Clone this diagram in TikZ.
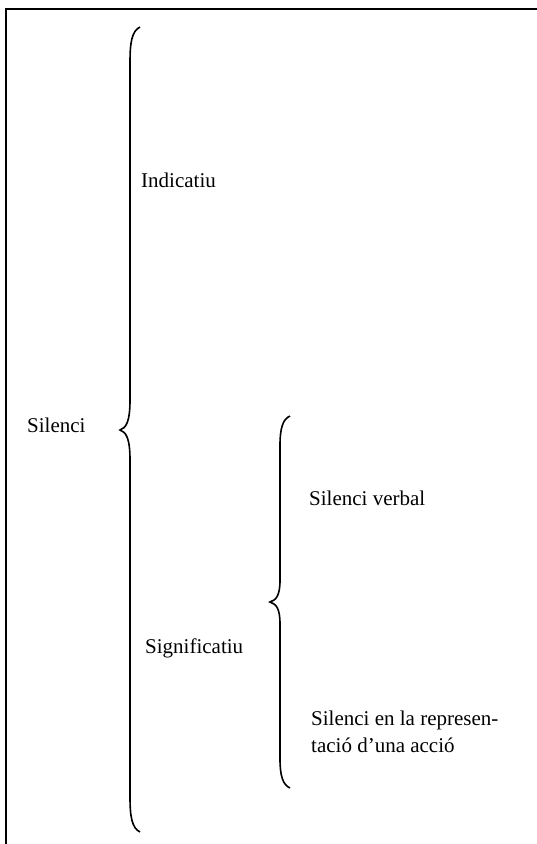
\documentclass[tikz,border=0pt]{standalone}
\usepackage{fontspec}
\setmainfont{Liberation Serif}
\usepackage{tikz}
\usetikzlibrary{positioning}

\begin{document}
\begin{tikzpicture}[
		x=1pt, y=-1pt,
		label/.style={inner sep=0pt, anchor=base west, font=\fontsize{21}{25}\selectfont},
		bracket/.style={line width=1.6pt}
	]
		\useasboundingbox (0,0) rectangle (537,844);

		% frame
		\draw[line width=2.2pt] (537,9) -- (6,9) -- (6,844);

		% big brace
		\draw[bracket]
			(140,27) .. controls (132,31) and (130,42) .. (130,62)
			-- (130,400) .. controls (130,422) and (126,428) .. (120,430)
			.. controls (126,432) and (130,438) .. (130,460)
			-- (130,797) .. controls (130,817) and (132,828) .. (140,832);

		% small brace
		\draw[bracket]
			(290,416) .. controls (283,419) and (280,428) .. (280,445)
			-- (280,580) .. controls (280,596) and (276,600) .. (270,602)
			.. controls (276,604) and (280,608) .. (280,624)
			-- (280,759) .. controls (280,776) and (283,785) .. (290,788);

		\node[label] (silenci)      at (27,432)  {Silenci};
		\node[label] (indicatiu)    at (141,187) {Indicatiu};
		\node[label] (significatiu) at (145,653) {Significatiu};
		\node[label] (verbal)       at (309,505) {Silenci verbal};
		\node[label] (accio)        at (311,725) {Silenci en la represen-};
		\node[label] (accio2)       at (311,752) {tació d’una acció};
	\end{tikzpicture}
\end{document}
